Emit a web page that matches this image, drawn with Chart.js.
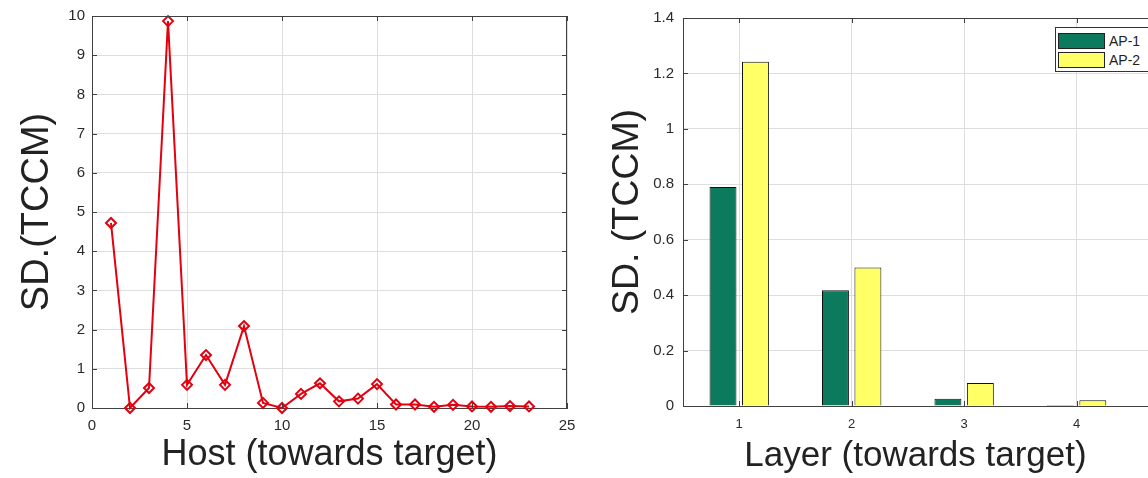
<!DOCTYPE html>
<html>
<head>
<meta charset="utf-8">
<script src="https://cdn.jsdelivr.net/npm/chart.js@4.4.1/dist/chart.umd.min.js"></script>
<style>
    body { margin: 0; background: #fff; font-family: "Liberation Sans", Arial, Helvetica, sans-serif; }
    .box { position: absolute; top: 0; height: 478px; }
    #leftBox { left: 0; width: 600px; }
    #rightBox { left: 600px; width: 548px; overflow: hidden; }
    #legend {
        position: absolute; left: 1055px; top: 27px; width: 90px; padding: 3px 0 2px 2px;
        border: 1px solid #333; background: #fff; font-size: 14px; color: #222;
    }
    #legend .item { display: flex; align-items: center; height: 19px; }
    #legend .swatch { width: 45px; height: 14px; border: 1px solid #222; margin-right: 4px; }
</style>
</head>
<body>
<div class="box" id="leftBox"><canvas id="hostChart"></canvas></div>
<div class="box" id="rightBox"><canvas id="layerChart"></canvas></div>
<div id="legend"></div>

<script>
// left panel: SD per host
const hosts = [1, 2, 3, 4, 5, 6, 7, 8, 9, 10, 11, 12, 13, 14, 15, 16, 17, 18, 19, 20, 21, 22, 23];
const hostSD = [4.72, 0.0, 0.51, 9.87, 0.59, 1.35, 0.59, 2.09, 0.13, 0.0, 0.36, 0.63, 0.17, 0.24, 0.61,
    0.09, 0.09, 0.03, 0.08, 0.04, 0.03, 0.05, 0.04];

// right panel: SD per layer, two APs
const layers = [1, 2, 3, 4];
const ap1 = [0.79, 0.418, 0.026, 0.004];
const ap2 = [1.242, 0.50, 0.083, 0.021];
const apNames = ['AP-1', 'AP-2'];
const apColors = ['#0c7a5c', '#ffff66'];

const FONT = '"Liberation Sans", Arial, Helvetica, sans-serif';
const TEXT = '#2a2a2a';
const AXIS = '#404040';
const GRID = '#dedede';

// matlab-ish box: top/right border plus inward tick marks
const boxTicks = {
    id: 'boxTicks',
    afterDraw(chart, args, opts) {
        const { ctx, chartArea: a, scales } = chart;
        const len = 5;
        ctx.save();
        ctx.strokeStyle = AXIS;
        ctx.lineWidth = 1;
        ctx.beginPath();
        ctx.moveTo(a.left, a.top + 0.5);
        ctx.lineTo(a.right, a.top + 0.5);
        if (opts.right !== false) {
            ctx.moveTo(a.right - 0.5, a.top);
            ctx.lineTo(a.right - 0.5, a.bottom);
        }
        scales.x.ticks.forEach(t => {
            const px = Math.round(scales.x.getPixelForValue(t.value)) + 0.5;
            ctx.moveTo(px, a.bottom); ctx.lineTo(px, a.bottom - len);
            ctx.moveTo(px, a.top); ctx.lineTo(px, a.top + len);
        });
        scales.y.ticks.forEach(t => {
            const py = Math.round(scales.y.getPixelForValue(t.value)) + 0.5;
            ctx.moveTo(a.left, py); ctx.lineTo(a.left + len, py);
            if (opts.right !== false) {
                ctx.moveTo(a.right, py); ctx.lineTo(a.right - len, py);
            }
        });
        ctx.stroke();
        ctx.restore();
    }
};

new Chart(document.getElementById('hostChart'), {
    type: 'line',
    data: {
        datasets: [{
            data: hosts.map((h, i) => ({ x: h, y: hostSD[i] })),
            borderColor: '#e3000f',
            borderWidth: 2,
            tension: 0,
            pointStyle: 'rectRot',
            pointRadius: 5,
            pointBorderWidth: 2,
            pointBackgroundColor: 'rgba(255,255,255,0)',
            pointBorderColor: '#e3000f',
            clip: false
        }]
    },
    options: {
        responsive: true,
        maintainAspectRatio: false,
        animation: false,
        layout: { padding: { top: 13, right: 33, left: 0, bottom: 0 } },
        plugins: { legend: { display: false }, tooltip: { enabled: false }, boxTicks: {} },
        scales: {
            x: {
                type: 'linear', min: 0, max: 25,
                ticks: { stepSize: 5, padding: 9, color: TEXT, font: { family: FONT, size: 15 } },
                grid: { color: GRID, drawTicks: false },
                border: { display: true, color: AXIS },
                title: { display: true, text: 'Host (towards target)', color: '#222', font: { family: FONT, size: 36 }, padding: { top: 0, bottom: 1 } },
                afterFit(scale) { scale.height = 70; }
            },
            y: {
                min: 0, max: 10,
                ticks: { stepSize: 1, padding: 7, color: TEXT, font: { family: FONT, size: 15 } },
                grid: { color: GRID, drawTicks: false },
                border: { display: true, color: AXIS },
                title: { display: true, text: 'SD.(TCCM)', color: '#222', font: { family: FONT, size: 38 }, padding: { top: 15, bottom: 0 } },
                afterFit(scale) { scale.width = 92; }
            }
        }
    },
    plugins: [boxTicks]
});

new Chart(document.getElementById('layerChart'), {
    type: 'bar',
    data: {
        datasets: [ap1, ap2].map((vals, k) => ({
            label: apNames[k],
            data: layers.map((l, i) => ({ x: l, y: vals[i] })),
            backgroundColor: apColors[k],
            borderColor: '#111',
            borderWidth: 1,
            categoryPercentage: 0.577,
            barPercentage: 0.83
        }))
    },
    options: {
        responsive: true,
        maintainAspectRatio: false,
        animation: false,
        layout: { padding: { top: 13, right: 0, left: 0, bottom: 0 } },
        plugins: { legend: { display: false }, tooltip: { enabled: false }, boxTicks: { right: false } },
        scales: {
            x: {
                type: 'linear', min: 0.5, max: 4.635, offset: false,
                ticks: { stepSize: 1, includeBounds: false, padding: 11, color: TEXT, font: { family: FONT, size: 13 } },
                grid: { color: GRID, drawTicks: false, offset: false },
                border: { display: true, color: AXIS },
                title: { display: true, text: 'Layer (towards target)', color: '#222', font: { family: FONT, size: 35 }, padding: { top: 0, bottom: 1 } },
                afterFit(scale) { scale.height = 72; }
            },
            y: {
                min: 0, max: 1.4,
                ticks: { stepSize: 0.2, padding: 9, color: TEXT, font: { family: FONT, size: 15 }, callback: v => String(+v.toFixed(1)) },
                grid: { color: GRID, drawTicks: false },
                border: { display: true, color: AXIS },
                title: { display: true, text: 'SD. (TCCM)', color: '#222', font: { family: FONT, size: 37.5 }, padding: { top: 5, bottom: 0 } },
                afterFit(scale) { scale.width = 83; }
            }
        }
    },
    plugins: [boxTicks]
});

// legend box inside the right plot
const legend = document.getElementById('legend');
apNames.forEach((name, k) => {
    const item = document.createElement('div');
    item.className = 'item';
    item.innerHTML = `<span class="swatch" style="background:${apColors[k]}"></span><span>${name}</span>`;
    legend.appendChild(item);
});
</script>
</body>
</html>
